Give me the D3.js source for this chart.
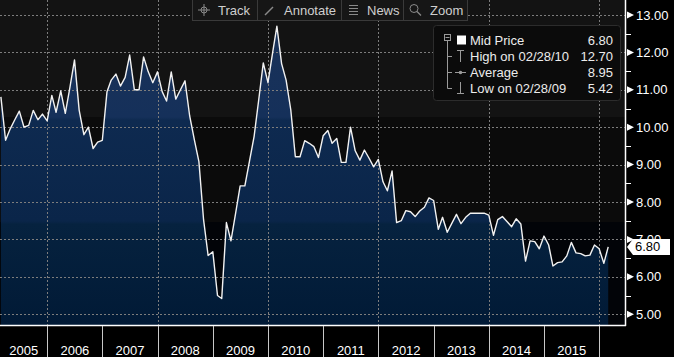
<!DOCTYPE html>
<html><head><meta charset="utf-8">
<script src="https://cdn.jsdelivr.net/npm/d3@7/dist/d3.min.js"></script>
<style>html,body{margin:0;padding:0;background:#000;overflow:hidden}
text{font-family:"Liberation Sans",Arial,sans-serif}</style>
</head><body>
<svg id="c" width="674" height="357"></svg>
<script>
// ---------- data ----------
const firstYear = 2005, firstMonth = 1; // Feb 2005 (month-end values)
const midPrice = [
  10.81, 9.65, 9.95, 10.2, 10.43, 10.0, 10.05, 10.45, 10.2, 10.35, 10.17,
  10.85, 10.4, 10.97, 10.37, 11.07, 11.8, 10.45, 9.8, 10.0, 9.43, 9.6, 9.65,
  10.95, 11.26, 11.42, 11.1, 11.33, 11.93, 11.0, 11.0, 11.88, 11.48, 11.19, 11.48,
  10.95, 10.7, 11.48, 10.75, 11.0, 11.24, 10.3, 9.66, 9.08, 7.52, 6.57, 6.67,
  5.5, 5.42, 7.45, 6.96, 7.7, 8.43, 8.43, 9.1, 9.75, 10.74, 11.72, 11.19,
  12.0, 12.70, 11.7, 11.26, 10.46, 9.21, 9.21, 9.64, 9.57, 9.48, 9.19, 9.77,
  9.91, 9.57, 9.7, 9.06, 9.06, 10.0, 9.37, 9.12, 9.39, 9.17, 8.94, 9.14,
  8.54, 8.3, 8.83, 7.45, 7.5, 7.77, 7.74, 7.61, 7.76, 7.86, 8.11, 8.04,
  7.27, 7.59, 7.19, 7.43, 7.67, 7.42, 7.59, 7.7, 7.7, 7.7, 7.7, 7.65,
  7.11, 7.53, 7.61, 7.48, 7.34, 7.55, 7.41, 6.42, 6.96, 6.94, 6.75, 7.09,
  6.85, 6.29, 6.38, 6.4, 6.56, 6.92, 6.64, 6.62, 6.56, 6.58, 6.85, 6.75,
  6.36, 6.80
];
const yearLabels = [2005,2006,2007,2008,2009,2010,2011,2012,2013,2014,2015];
const yTicks = [5,6,7,8,9,10,11,12,13];
const gridYears = [2006,2008,2010,2012,2014,2016];
const legendLabels = ["Mid Price","High on 02/28/10","Average","Low on 02/28/09"];
const legendValues = ["6.80","12.70","8.95","5.42"];
const lastValue = "6.80";
const toolbarLabels = ["Track","Annotate","News","Zoom"];

// ---------- layout ----------
const plotR = 625, plotB = 325;
const svg = d3.select("#c");
const x = d3.scaleTime().domain([new Date(2006,0,1), new Date(2016,0,1)]).range([47.3, 599.3]);
const y = d3.scaleLinear().domain([5,13]).range([314.2, 15]);
const data = midPrice.map((v,i)=>({date:new Date(firstYear, firstMonth+i+1, 0), v}));

const defs = svg.append("defs");
defs.append("clipPath").attr("id","clip").append("rect").attr("x",0).attr("y",0).attr("width",plotR).attr("height",plotB);
const g1 = defs.append("linearGradient").attr("id","fillG").attr("gradientUnits","userSpaceOnUse")
  .attr("x1",0).attr("x2",0).attr("y1",0).attr("y2",plotB);
[[0,"#1b3359"],[0.36,"#15305a"],[0.37,"#0e2a50"],[0.68,"#0a2549"],[0.69,"#06223f"],[1,"#011a36"]]
  .forEach(([o,c])=>g1.append("stop").attr("offset",o).attr("stop-color",c));

const plot = svg.append("g").attr("clip-path","url(#clip)");
// background bands
[[0,117,"#131313"],[117,222,"#0b0b0b"],[222,plotB,"#020408"]].forEach(([a,b,c])=>
  plot.append("rect").attr("x",0).attr("y",a).attr("width",plotR).attr("height",b-a).attr("fill",c));

// area + line
plot.append("path").datum(data).attr("fill","url(#fillG)")
  .attr("d", d3.area().x(d=>x(d.date)).y0(plotB).y1(d=>y(d.v)));

// gridlines
plot.selectAll(".hg").data(yTicks).enter().append("line")
  .attr("x1",0).attr("x2",plotR).attr("y1",d=>Math.round(y(d))+0.5).attr("y2",d=>Math.round(y(d))+0.5)
  .attr("stroke","#7d7d7d").attr("stroke-dasharray","2,2").attr("stroke-width",1);
plot.selectAll(".vg").data(gridYears).enter().append("line")
  .attr("y1",0).attr("y2",plotB).attr("x1",d=>Math.round(x(new Date(d,0,1)))+0.5).attr("x2",d=>Math.round(x(new Date(d,0,1)))+0.5)
  .attr("stroke","#7d7d7d").attr("stroke-dasharray","2,2").attr("stroke-width",1);

plot.append("path").datum(data).attr("fill","none").attr("stroke","#f2f2f2").attr("stroke-width",1.4)
  .attr("stroke-linejoin","round")
  .attr("d", d3.line().x(d=>x(d.date)).y(d=>y(d.v)));

// borders
svg.append("line").attr("x1",plotR+0.5).attr("x2",plotR+0.5).attr("y1",0).attr("y2",plotB+1).attr("stroke","#fff").attr("stroke-width",1.5);
svg.append("line").attr("x1",0).attr("x2",plotR+1).attr("y1",plotB+0.5).attr("y2",plotB+0.5).attr("stroke","#fff").attr("stroke-width",1.5);

// right axis
const ra = svg.append("g");
yTicks.forEach(t=>{
  const yy = y(t);
  ra.append("path").attr("d",`M627,${yy-3.5}L634,${yy}L627,${yy+3.5}Z`).attr("fill","#fff");
  ra.append("text").attr("x",636).attr("y",yy+4.6).attr("fill","#fff").attr("font-size",13).text(d3.format(".2f")(t));
  if (t<13) {
    const ym = Math.round(y(t+0.5))+0.5;
    ra.append("line").attr("x1",plotR).attr("x2",631).attr("y1",ym).attr("y2",ym).attr("stroke","#fff");
  }
});
// last value marker
const ly = y(+lastValue);
ra.append("path").attr("d",`M627,${ly}L633,${ly-8}L670,${ly-8}L670,${ly+8}L633,${ly+8}Z`).attr("fill","#fff");
ra.append("text").attr("x",635).attr("y",ly+4.6).attr("fill","#000").attr("font-size",13).text(lastValue);

// bottom axis
const ba = svg.append("g");
gridYears.concat([2007,2009,2011,2013,2015]).forEach(yr=>{
  const xx = Math.round(x(new Date(yr,0,1)))+0.5;
  ba.append("line").attr("x1",xx).attr("x2",xx).attr("y1",plotB+1).attr("y2",357).attr("stroke","#c8c8c8");
});
yearLabels.forEach(yr=>{
  const a = Math.max(0, x(new Date(yr,0,1))), b = x(new Date(yr+1,0,1));
  ba.append("text").attr("x",(a+b)/2).attr("y",355).attr("text-anchor","middle").attr("fill","#fff").attr("font-size",13).text(yr);
});

// toolbar
const tb = svg.append("g");
tb.append("rect").attr("x",192.5).attr("y",-1).attr("width",275).attr("height",21.5).attr("fill","#161616").attr("stroke","#3a3a3a");
[257.5,341.5,403.5].forEach(xx=>tb.append("line").attr("x1",xx).attr("x2",xx).attr("y1",0).attr("y2",20).attr("stroke","#3a3a3a"));
const tx = [218,284,367,430];
toolbarLabels.forEach((l,i)=>tb.append("text").attr("x",tx[i]).attr("y",15).attr("fill","#cfcfcf").attr("font-size",13).text(l));
const ic = "#8a8a8a";
tb.append("circle").attr("cx",204).attr("cy",10).attr("r",3).attr("fill","none").attr("stroke",ic);
tb.append("path").attr("d","M198,10H210M204,4V16").attr("stroke",ic);
tb.append("path").attr("d","M265,15L273,7").attr("stroke",ic).attr("stroke-width",1.5);
tb.append("path").attr("d","M349,5.5H358M349,8.5H358M349,11.5H358M349,14.5H358").attr("stroke",ic);
tb.append("circle").attr("cx",414).attr("cy",8.5).attr("r",4).attr("fill","none").attr("stroke",ic);
tb.append("path").attr("d","M417,11.5L421,15.5").attr("stroke",ic).attr("stroke-width",1.3);

// legend
const lg = svg.append("g");
lg.append("rect").attr("x",433.5).attr("y",25.5).attr("width",187).attr("height",75).attr("rx",3)
  .attr("fill","#0b0b0b").attr("stroke","#2c2c2c");
const rowY = [40,56,72,88];
const lc = "#9a9a9a";
lg.append("rect").attr("x",444.5).attr("y",34.5).attr("width",6).attr("height",6).attr("fill","none").attr("stroke",lc);
lg.append("path").attr("d","M445.5,37.5H449.5").attr("stroke",lc);
lg.append("path").attr("d",`M447.5,41V${rowY[3]+0.5}`).attr("stroke",lc);
rowY.slice(1).forEach(ry=>lg.append("path").attr("d",`M447.5,${ry+0.5}H452`).attr("stroke",lc));
lg.append("rect").attr("x",457).attr("y",35.5).attr("width",9).attr("height",9).attr("fill","#fff");
lg.append("path").attr("d",`M457,${rowY[1]-5.5}H464M460.5,${rowY[1]-5.5}V${rowY[1]+6}`).attr("stroke",lc);
lg.append("path").attr("d",`M455,${rowY[2]+0.5}H466`).attr("stroke",lc);
lg.append("circle").attr("cx",460.5).attr("cy",rowY[2]+0.5).attr("r",1.8).attr("fill",lc);
lg.append("path").attr("d",`M460.5,${rowY[3]-6}V${rowY[3]+5.5}M457,${rowY[3]+5.5}H464`).attr("stroke",lc);
legendLabels.forEach((l,i)=>{
  lg.append("text").attr("x",470).attr("y",rowY[i]+4.6).attr("fill","#ececec").attr("font-size",13).text(l);
  lg.append("text").attr("x",613).attr("y",rowY[i]+4.6).attr("text-anchor","end").attr("fill","#ececec").attr("font-size",13).text(legendValues[i]);
});
</script>
</body></html>
